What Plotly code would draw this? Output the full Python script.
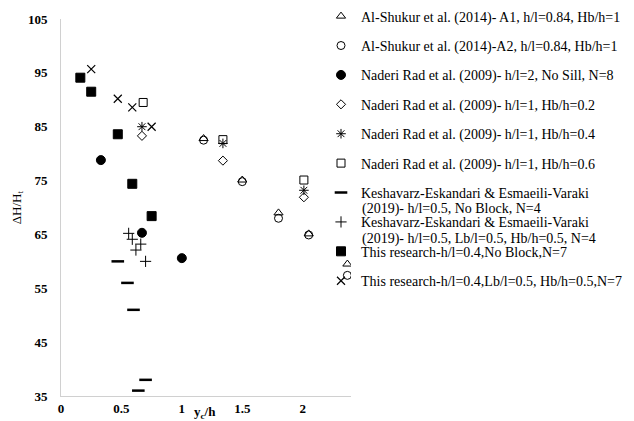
import plotly.graph_objects as go

# ---- data ----
a1_x = [1.18, 1.50, 1.80, 2.05, 2.37]
a1_y = [82.8, 75.1, 69.0, 65.1, 59.5]
a2_x = [1.18, 1.50, 1.80, 2.05, 2.37]
a2_y = [82.5, 74.8, 68.0, 64.9, 57.4]
nr2_x = [0.33, 0.67, 1.00]
nr2_y = [78.8, 65.3, 60.6]
nr02_x = [0.67, 1.34, 2.01]
nr02_y = [83.3, 78.7, 71.9]
nr04_x = [0.67, 1.34, 2.01]
nr04_y = [85.0, 81.9, 73.2]
nr06_x = [0.68, 1.34, 2.01]
nr06_y = [89.5, 82.6, 75.1]
ke_nb_x = [0.47, 0.55, 0.60, 0.70, 0.64]
ke_nb_y = [60.0, 56.0, 51.0, 38.0, 36.0]
ke_b_x = [0.56, 0.59, 0.66, 0.62, 0.70]
ke_b_y = [65.2, 64.1, 63.2, 62.1, 60.0]
tr_nb_x = [0.16, 0.25, 0.47, 0.59, 0.75]
tr_nb_y = [94.1, 91.5, 83.6, 74.4, 68.4]
tr_b_x = [0.25, 0.47, 0.59, 0.75]
tr_b_y = [95.7, 90.2, 88.6, 85.0]

names = [
    "Al-Shukur et al. (2014)- A1, h/l=0.84, Hb/h=1",
    "Al-Shukur et al. (2014)-A2, h/l=0.84, Hb/h=1",
    "Naderi Rad et al. (2009)- h/l=2, No Sill, N=8",
    "Naderi Rad et al. (2009)- h/l=1, Hb/h=0.2",
    "Naderi Rad et al. (2009)- h/l=1, Hb/h=0.4",
    "Naderi Rad et al. (2009)- h/l=1, Hb/h=0.6",
    "Keshavarz-Eskandari & Esmaeili-Varaki",
    "Keshavarz-Eskandari & Esmaeili-Varaki",
    "This research-h/l=0.4,No Block,N=7",
    "This research-h/l=0.4,Lb/l=0.5, Hb/h=0.5,N=7",
]
second_lines = [
    "(2019)- h/l=0.5, No Block, N=4",
    "(2019)- h/l=0.5, Lb/l=0.5, Hb/h=0.5, N=4",
]
x_ticks = [0, 0.5, 1, 1.5, 2]
y_ticks = [35, 45, 55, 65, 75, 85, 95, 105]

FONT = "Liberation Serif"
K = "black"
LF = 14  # legend font size

series = [
    (a1_x, a1_y, "triangle-up-open", 8, 1),
    (a2_x, a2_y, "circle-open", 8, 1),
    (nr2_x, nr2_y, "circle", 9, 1),
    (nr02_x, nr02_y, "diamond-open", 7, 1),
    (nr04_x, nr04_y, "asterisk-open", 8, 1),
    (nr06_x, nr06_y, "square-open", 8, 1),
    (ke_nb_x, ke_nb_y, "line-ew-open", 9, 2.5),
    (ke_b_x, ke_b_y, "cross-thin-open", 8, 1),
    (tr_nb_x, tr_nb_y, "square", 9, 1),
    (tr_b_x, tr_b_y, "x-thin-open", 8, 1.2),
]

fig = go.Figure()
for i, ((xs, ys, sym, sz, lw), nm) in enumerate(zip(series, names)):
    fig.add_trace(go.Scatter(
        x=xs, y=ys, mode="markers", name=nm, legendgroup=f"g{i}",
        marker=dict(symbol=sym, size=sz, color=K, line=dict(color=K, width=lw)),
    ))

# page offset (browser body margin) compensation
O = 8
W, H = 634 - O, 421 - O
PL, PR, PT, PB = 61, 351, 18.5, 396  # plot box in page pixels
L, R, T, B = PL - O, W - (PR - O), PT - O, H - (PB - O)
pw, ph = W - L - R, H - T - B

def px_x(p):
    return (p - O - L) / pw

def px_y(p):
    return (H - B - (p - O)) / ph

annotations = [
    dict(text="y<sub>c</sub>/h", x=1.19, xref="x", y=px_y(413), yref="paper",
         showarrow=False, font=dict(family=FONT, size=13, color=K, weight="bold"),
         xanchor="center", yanchor="middle"),
    dict(text="ΔH/H<sub>t</sub>", x=px_x(17), xref="paper", y=px_y(207), yref="paper",
         showarrow=False, textangle=-90, xanchor="center", yanchor="middle",
         font=dict(family=FONT, size=13, color=K)),
]
for txt, py in zip(second_lines, [208.3, 238.3]):
    annotations.append(dict(text=txt, x=px_x(359.5), xref="paper", y=px_y(py), yref="paper",
                            showarrow=False, xanchor="left", yanchor="middle",
                            font=dict(family=FONT, size=LF, color=K)))

fig.update_layout(
    width=W, height=H,
    margin=dict(l=L, r=R, t=T, b=B, autoexpand=False),
    paper_bgcolor="white", plot_bgcolor="white",
    font=dict(family=FONT, size=12, color=K),
    showlegend=True,
    legend=dict(x=px_x(321), xanchor="left", y=px_y(0), yanchor="top",
                font=dict(family=FONT, size=LF, color=K), maxheight=400,
                bgcolor="rgba(0,0,0,0)", tracegroupgap=8.2,
                itemwidth=30, traceorder="grouped"),
    xaxis=dict(range=[0, 2.4], tickvals=x_ticks, ticktext=[str(v) for v in x_ticks],
               showgrid=False, zeroline=False, showline=True, linecolor="#d0d0d0",
               linewidth=1, ticks="", ticklabelstandoff=0,
               tickfont=dict(family=FONT, size=13, color=K, weight="bold")),
    yaxis=dict(range=[35, 105], tickvals=y_ticks, showgrid=False, zeroline=False,
               showline=True, linecolor="#d0d0d0", linewidth=1, ticks="",
               ticklabelstandoff=10,
               tickfont=dict(family=FONT, size=13, color=K, weight="bold")),
    annotations=annotations,
)

fig.write_html("out.html")
